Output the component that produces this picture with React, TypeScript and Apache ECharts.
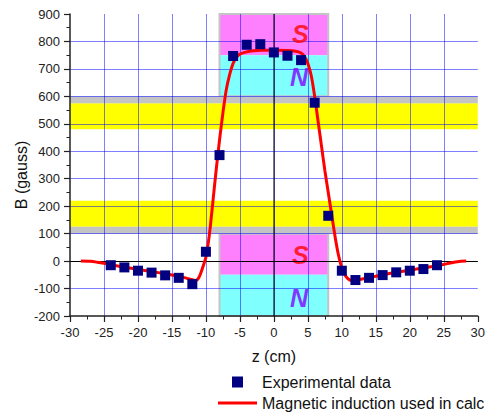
import React, { useEffect, useRef } from "react";
import * as echarts from "echarts";

// Experimental points (z in cm, B in gauss)
const expZ = [-24, -22, -20, -18, -16, -14, -12, -10, -8, -6, -4, -2, 0, 2, 4, 6, 8, 10, 12, 14, 16, 18, 20, 22, 24];
const expB = [-15, -23, -35, -42, -52, -61, -84, 34, 386, 747, 788, 790, 760, 748, 732, 577, 165, -35, -69, -61, -51, -41, -35, -29, -15];

// Magnetic induction used in calculations
const calcZ = [-28.4, -27, -26, -25, -24, -22, -20, -18, -16, -14, -13, -12, -11.5, -11, -10.5, -10, -9.5, -9, -8.5, -8, -7.5, -7, -6.5, -6, -5.5, -5, -4, -3, -2, 0, 2, 3, 4, 4.5, 5, 5.5, 6, 6.5, 7, 7.5, 8, 8.5, 9, 9.5, 10, 10.5, 11, 11.5, 12, 13, 14, 16, 18, 20, 22, 24, 26, 27, 28.3];
const calcB = [0, -1, -4, -8, -13, -22, -30, -38, -46, -55, -61, -68, -71, -58, -25, 15, 95, 210, 330, 440, 540, 625, 680, 720, 742, 754, 762, 766, 768, 768, 767, 765, 758, 745, 720, 675, 600, 510, 420, 330, 250, 170, 90, 22, -25, -52, -66, -71, -70, -65, -60, -50, -41, -33, -25, -17, -7, -2, 0];

// Bands (B ranges across the whole z range)
const yellowBands = [[480, 575], [125, 220]];
const grayBands = [[575, 600], [100, 125]];

// Magnets: z extent and pole ranges of B
const magnetZ = [-8, 8];
const southRanges = [[750, 900], [-50, 100]];
const northRanges = [[600, 750], [-200, -50]];

// Pole labels
const poleText = ["S", "N", "S", "N"];
const poleZ = [3.9, 3.7, 3.9, 3.7];
const poleB = [828, 672, 22, -136];

const xRange = [-30, 30, 5];
const yRange = [-200, 900, 100];

const FONT = "'Liberation Sans', Arial, sans-serif";

export default function App() {
  const ref = useRef<HTMLDivElement>(null);

  useEffect(() => {
    document.body.style.margin = "0";
    if (!ref.current) return;
    const chart = echarts.init(ref.current, undefined, { renderer: "svg" });

    const poleColor = (t: string) => (t === "S" ? "#ff0000" : "#8000ff");

    const option: any = {
      animation: false,
      backgroundColor: "#ffffff",
      textStyle: { fontFamily: FONT },
      grid: { left: 70, right: 6, top: 14, bottom: 97 },
      xAxis: {
        type: "value",
        min: xRange[0],
        max: xRange[1],
        interval: xRange[2],
        z: 3,
        name: "z (cm)",
        nameLocation: "middle",
        nameGap: 32,
        nameTextStyle: { fontSize: 16, color: "#111", fontFamily: FONT },
        axisLine: { onZero: false, lineStyle: { color: "#222", width: 1.5 } },
        axisTick: { show: true, inside: false, length: 6, lineStyle: { color: "#222", width: 1.2 } },
        minorTick: { show: true, splitNumber: 2, length: 3.5, lineStyle: { color: "#222", width: 1 } },
        axisLabel: { fontSize: 13, color: "#222", margin: 10, fontFamily: FONT },
        splitLine: { show: true, showMinLine: false, showMaxLine: false, lineStyle: { color: "rgba(0,0,255,0.5)", width: 1 } },
      },
      yAxis: {
        type: "value",
        min: yRange[0],
        max: yRange[1],
        interval: yRange[2],
        z: 3,
        axisLine: { show: true, onZero: false, lineStyle: { color: "#222", width: 1.5 } },
        axisTick: { show: true, inside: false, length: 6, lineStyle: { color: "#222", width: 1.2 } },
        minorTick: { show: true, splitNumber: 2, length: 3.5, lineStyle: { color: "#222", width: 1 } },
        axisLabel: { fontSize: 13, color: "#222", margin: 10, fontFamily: FONT },
        splitLine: { show: true, showMinLine: false, showMaxLine: false, lineStyle: { color: "rgba(0,0,255,0.5)", width: 1 } },
      },
      legend: {
        orient: "vertical",
        left: 218,
        top: 374,
        padding: 0,
        itemWidth: 39,
        itemHeight: 11,
        itemGap: 5,
        symbolKeepAspect: true,
        textStyle: { fontSize: 16, color: "#111", fontFamily: FONT },
        data: [
          { name: "Experimental data", icon: "path://M0,0h10v10h-10z", itemStyle: { color: "#000080", opacity: 1 } },
          { name: "Magnetic induction used in calc", icon: "path://M0,0h39v3h-39z", itemStyle: { color: "#ff0000", opacity: 1 } },
        ],
      },
      graphic: [
        {
          type: "text",
          x: 21,
          y: 175,
          rotation: Math.PI / 2,
          style: {
            text: "B (gauss)",
            fontSize: 16,
            fontFamily: FONT,
            fill: "#111",
            align: "center",
            verticalAlign: "middle",
          },
        },
      ],
      series: [
        {
          type: "line",
          z: 1,
          data: [],
          silent: true,
          markLine: {
            silent: true,
            symbol: "none",
            label: { show: false },
            lineStyle: { color: "#000", width: 1.2, type: "solid" },
            data: [{ yAxis: 0 }],
          },
        },
        {
          type: "line",
          z: 2,
          data: [],
          silent: true,
          markArea: {
            silent: true,
            label: { show: false },
            data: [
              ...yellowBands.map((r) => [
                { yAxis: r[0], itemStyle: { color: "#ffff00", opacity: 1 } },
                { yAxis: r[1] },
              ]),
              ...grayBands.map((r) => [
                { yAxis: r[0], itemStyle: { color: "#c4c4c4", opacity: 1 } },
                { yAxis: r[1] },
              ]),
              ...southRanges.map((r) => [
                { xAxis: magnetZ[0], yAxis: r[0], itemStyle: { color: "#ff80ff", opacity: 1 } },
                { xAxis: magnetZ[1], yAxis: r[1] },
              ]),
              ...northRanges.map((r) => [
                { xAxis: magnetZ[0], yAxis: r[0], itemStyle: { color: "#80ffff", opacity: 1 } },
                { xAxis: magnetZ[1], yAxis: r[1] },
              ]),
              ...southRanges.map((r, i) => [
                {
                  xAxis: magnetZ[0],
                  yAxis: northRanges[i][0],
                  itemStyle: { color: "rgba(0,0,0,0)", borderColor: "#c4c4c4", borderWidth: 2, opacity: 1 },
                },
                { xAxis: magnetZ[1], yAxis: r[1] },
              ]),
            ],
          },
        },
        {
          type: "line",
          z: 4,
          data: [],
          silent: true,
          markLine: {
            silent: true,
            symbol: "none",
            label: { show: false },
            lineStyle: { color: "rgba(0,0,0,0.7)", width: 1.5, type: "solid" },
            data: [{ xAxis: 0 }],
          },
        },
        {
          type: "scatter",
          z: 4,
          silent: true,
          symbolSize: 0,
          data: poleText.map((t, i) => ({
            name: t,
            value: [poleZ[i], poleB[i]],
            label: {
              show: true,
              position: "inside",
              formatter: t,
              color: poleColor(t),
              fontSize: 25,
              fontWeight: "bold",
              fontStyle: "italic",
              fontFamily: FONT,
            },
          })),
        },
        {
          name: "Magnetic induction used in calc",
          type: "line",
          z: 5,
          symbol: "none",
          smooth: 0.3,
          lineStyle: { color: "#ff0000", width: 3 },
          itemStyle: { color: "#ff0000" },
          data: calcZ.map((z, i) => [z, calcB[i]]),
        },
        {
          name: "Experimental data",
          type: "scatter",
          z: 6,
          symbol: "rect",
          symbolSize: 10,
          itemStyle: { color: "#000080", opacity: 1 },
          data: expZ.map((z, i) => [z, expB[i]]),
        },
      ],
    };

    chart.setOption(option);
    return () => chart.dispose();
  }, []);

  return <div ref={ref} style={{ width: 488, height: 413 }} />;
}
